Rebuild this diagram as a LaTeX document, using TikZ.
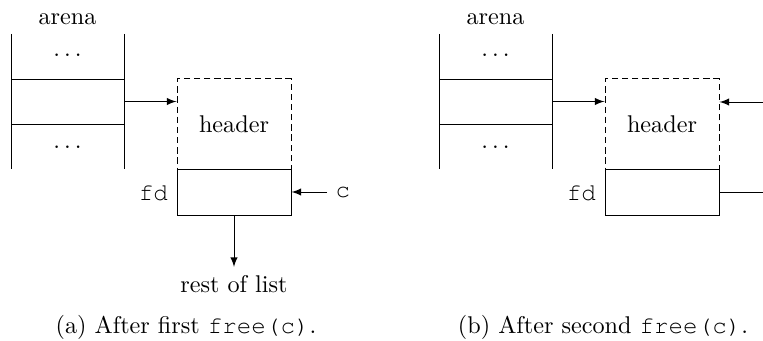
\documentclass[tikz,border=0pt]{standalone}
\usepackage{fontspec}
\setmonofont{TeX Gyre Cursor}
\usetikzlibrary{arrows}
\tikzset{
  x=0.4132pt, y=-0.4132pt,
  cell/.style={draw, minimum width=46.7pt, minimum height=18.6pt, inner sep=0pt},
  hdrbox/.style={draw, dash pattern=on 2.6pt off 1.6pt, minimum width=47.1pt, minimum height=37.2pt, inner sep=0pt},
  fdbox/.style={draw, minimum width=47.1pt, minimum height=19pt, inner sep=0pt},
  ptr/.style={-latex},
}
\begin{document}
\begin{tikzpicture}
\useasboundingbox (0,0) rectangle (763,341);

% ---- (a) after the first free(c)
\begin{scope}[name prefix=a-]
  \node (arena) at (67.5,19) {arena};
  \node[cell] (slot) at (67.5,101.5) {};
  \coordinate (lt) at (11,34);  \coordinate (lb) at (11,169);
  \coordinate (rt) at (124,34); \coordinate (rb) at (124,169);
  \draw (lt) -- (lb);
  \draw (rt) -- (rb);
  \node (dotsup) at (67.5,55) {$\ldots$};
  \node (dotsdn) at (67.5,147) {$\ldots$};
  \node[hdrbox] (hdr) at (234,124) {header};
  \node[fdbox, anchor=north] (fd) at (hdr.south) {};
  \node[left] (fdl) at (fd.west) {\texttt{fd}};
  \node (c) at (343,192) {\texttt{c}};
  \node[anchor=north] (rest) at (234,267) {rest of list};
  \draw[ptr] (slot.east) -- (slot.east -| hdr.west);
  \draw[ptr] (c.west) -- (c.west -| fd.east);
  \draw[ptr] (fd.south) -- (rest.north);
  \node (cap) at (186,327) {(a) After first \texttt{free(c)}.};
\end{scope}

% ---- (b) after the second free(c)
\begin{scope}[name prefix=b-, shift={(428,0)}]
  \node (arena) at (67.5,19) {arena};
  \node[cell] (slot) at (67.5,101.5) {};
  \coordinate (lt) at (11,34);  \coordinate (lb) at (11,169);
  \coordinate (rt) at (124,34); \coordinate (rb) at (124,169);
  \draw (lt) -- (lb);
  \draw (rt) -- (rb);
  \node (dotsup) at (67.5,55) {$\ldots$};
  \node (dotsdn) at (67.5,147) {$\ldots$};
  \node[hdrbox] (hdr) at (234,124) {header};
  \node[fdbox, anchor=north] (fd) at (hdr.south) {};
  \node[left] (fdl) at (fd.west) {\texttt{fd}};
  \coordinate (loopin) at (335,102);
  \coordinate (loopout) at (335,192);
  \draw[ptr] (loopin) -- (loopin -| hdr.east);
  \draw[ptr] (slot.east) -- (slot.east -| hdr.west);
  \draw (fd.east) -- (fd.east -| loopout);
  \node (cap) at (175,327) {(b) After second \texttt{free(c)}.};
\end{scope}
\end{tikzpicture}
\end{document}
